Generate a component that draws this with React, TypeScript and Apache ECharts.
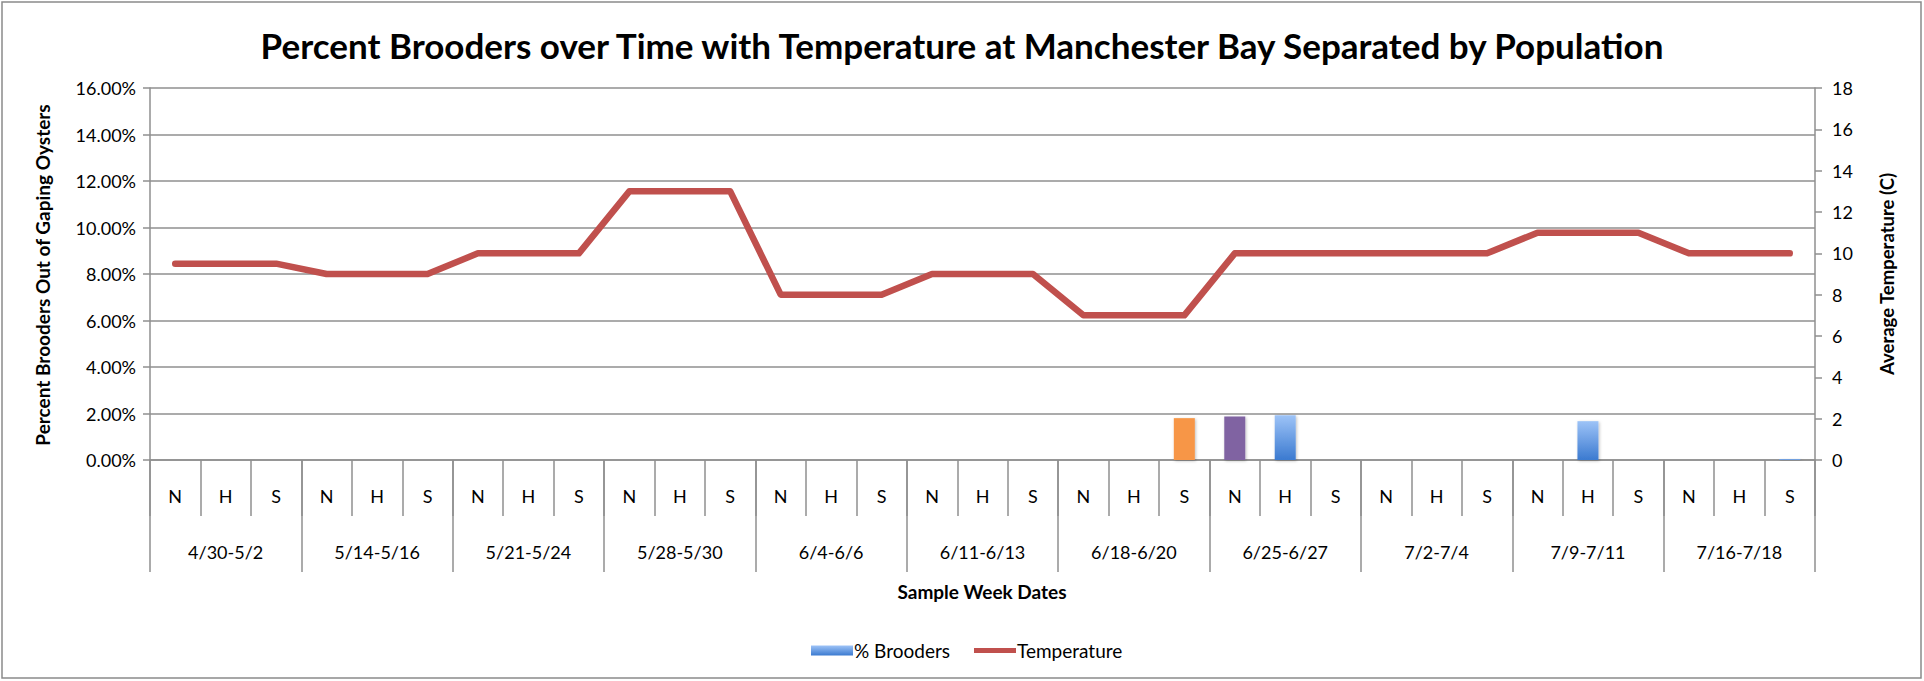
import React, { useEffect, useRef } from "react";
import * as echarts from "echarts";

const populations = ["N", "H", "S"];
const weekGroups = [
  "4/30-5/2",
  "5/14-5/16",
  "5/21-5/24",
  "5/28-5/30",
  "6/4-6/6",
  "6/11-6/13",
  "6/18-6/20",
  "6/25-6/27",
  "7/2-7/4",
  "7/9-7/11",
  "7/16-7/18",
];
const subCategories = weekGroups.flatMap(() => populations);

// % Brooders (fraction), one per population per week
const brooders = [
  0, 0, 0,
  0, 0, 0,
  0, 0, 0,
  0, 0, 0,
  0, 0, 0,
  0, 0, 0,
  0, 0, 0.018,
  0.0187, 0.0192, 0,
  0, 0, 0,
  0, 0.0167, 0,
  0, 0, 0.0004,
];

// Average temperature (C)
const temperature = [
  9.5, 9.5, 9.5,
  9, 9, 9,
  10, 10, 10,
  13, 13, 13,
  8, 8, 8,
  9, 9, 9,
  7, 7, 7,
  10, 10, 10,
  10, 10, 10,
  11, 11, 11,
  10, 10, 10,
];

const leftTicks = { min: 0, max: 0.16, interval: 0.02 };
const rightTicks = { min: 0, max: 18, interval: 2 };

const FONT = "Lato";
const GRAY = "#8f8f8f";

const blueGradient = () =>
  new echarts.graphic.LinearGradient(0, 0, 0, 1, [
    { offset: 0, color: "#9dc3f7" },
    { offset: 1, color: "#3b7ad0" },
  ]);

// per-point colour overrides (index -> colour)
const pointColors: Record<number, string> = { 20: "#f79646", 21: "#8064a2" };

export default function App() {
  const ref = useRef<HTMLDivElement>(null);
  useEffect(() => {
    if (!ref.current) return;
    const chart = echarts.init(ref.current, null, { renderer: "svg" });
    const barData = brooders.map((v, i) =>
      pointColors[i] ? { value: v, itemStyle: { color: pointColors[i] } } : v
    );
    chart.setOption({
      animation: false,
      backgroundColor: "#ffffff",
      textStyle: { fontFamily: FONT, color: "#000" },
      grid: { left: 150, right: 109, top: 88, bottom: 221, containLabel: false },
      legend: {
        left: 806,
        top: 636,
        itemWidth: 42,
        itemHeight: 10,
        itemGap: 24,
        textStyle: { fontFamily: FONT, fontSize: 19, color: "#000", padding: [0, 0, 0, -4] },
        data: [
          { name: "% Brooders", icon: "rect" },
          {
            name: "Temperature",
            icon: "path://M0,0 L42,0 L42,5 L0,5 Z",
            itemStyle: { color: "#c0504d" },
          },
        ],
      },
      graphic: [
        {
          type: "rect",
          shape: { x: 2, y: 2, width: 1919, height: 676 },
          style: { fill: "none", stroke: "#8a8a8a", lineWidth: 1.5 },
          silent: true,
        },
        {
          type: "text",
          x: 962,
          y: 45,
          style: {
            text: "Percent Brooders over Time with Temperature at Manchester Bay Separated by Population",
            font: `bold 35px ${FONT}`,
            fill: "#000",
            align: "center",
            verticalAlign: "middle",
          },
        },
        {
          type: "text",
          x: 42,
          y: 275,
          rotation: Math.PI / 2,
          style: {
            text: "Percent Brooders Out of Gaping Oysters",
            font: `bold 19px ${FONT}`,
            fill: "#000",
            align: "center",
            verticalAlign: "middle",
          },
        },
        {
          type: "text",
          x: 1887,
          y: 274,
          rotation: Math.PI / 2,
          style: {
            text: "Average Temperature (C)",
            font: `bold 18.5px ${FONT}`,
            fill: "#000",
            align: "center",
            verticalAlign: "middle",
          },
        },
        {
          type: "text",
          x: 982,
          y: 591,
          style: {
            text: "Sample Week Dates",
            font: `bold 19px ${FONT}`,
            fill: "#000",
            align: "center",
            verticalAlign: "middle",
          },
        },
      ],
      xAxis: [
        {
          type: "category",
          data: subCategories,
          position: "bottom",
          boundaryGap: true,
          axisLine: { show: true, lineStyle: { color: GRAY, width: 1.5 } },
          axisTick: {
            show: true,
            interval: 0,
            alignWithLabel: false,
            length: 56,
            lineStyle: { color: GRAY, width: 1.5 },
          },
          axisLabel: { interval: 0, margin: 27, fontSize: 18, color: "#000", fontFamily: FONT },
          splitLine: { show: false },
        },
        {
          type: "category",
          data: weekGroups,
          position: "bottom",
          boundaryGap: true,
          axisLine: { show: false },
          axisTick: {
            show: true,
            interval: 0,
            alignWithLabel: false,
            length: 112,
            lineStyle: { color: GRAY, width: 1.5 },
          },
          axisLabel: { interval: 0, margin: 83, fontSize: 18, color: "#000", fontFamily: FONT },
          splitLine: { show: false },
        },
      ],
      yAxis: [
        {
          type: "value",
          min: leftTicks.min,
          max: leftTicks.max,
          interval: leftTicks.interval,
          position: "left",
          axisLine: { show: true, lineStyle: { color: GRAY, width: 1.5 } },
          axisTick: { show: true, length: 7, lineStyle: { color: GRAY, width: 1.5 } },
          axisLabel: {
            margin: 14,
            fontSize: 18,
            color: "#000",
            fontFamily: FONT,
            formatter: (v: number) => (v * 100).toFixed(2) + "%",
          },
          splitLine: { show: true, lineStyle: { color: GRAY, width: 1.5 } },
        },
        {
          type: "value",
          min: rightTicks.min,
          max: rightTicks.max,
          interval: rightTicks.interval,
          position: "right",
          axisLine: { show: true, lineStyle: { color: GRAY, width: 1.5 } },
          axisTick: { show: true, length: 7, lineStyle: { color: GRAY, width: 1.5 } },
          axisLabel: { margin: 17, fontSize: 18, color: "#000", fontFamily: FONT },
          splitLine: { show: false },
        },
      ],
      series: [
        {
          name: "% Brooders",
          type: "bar",
          xAxisIndex: 0,
          yAxisIndex: 0,
          barWidth: 21,
          itemStyle: {
            color: blueGradient(),
            shadowColor: "rgba(0,0,0,0.25)",
            shadowBlur: 3,
            shadowOffsetX: 1,
            shadowOffsetY: 1,
          },
          data: barData,
        },
        {
          name: "Temperature",
          type: "line",
          xAxisIndex: 0,
          yAxisIndex: 1,
          symbol: "none",
          showSymbol: false,
          lineStyle: { color: "#c0504d", width: 6.5, cap: "round", join: "round" },
          itemStyle: { color: "#c0504d" },
          data: temperature,
        },
      ],
    });
    return () => chart.dispose();
  }, []);
  return (
    <div
      ref={ref}
      style={{ position: "fixed", left: 0, top: 0, width: 1924, height: 681 }}
    />
  );
}
